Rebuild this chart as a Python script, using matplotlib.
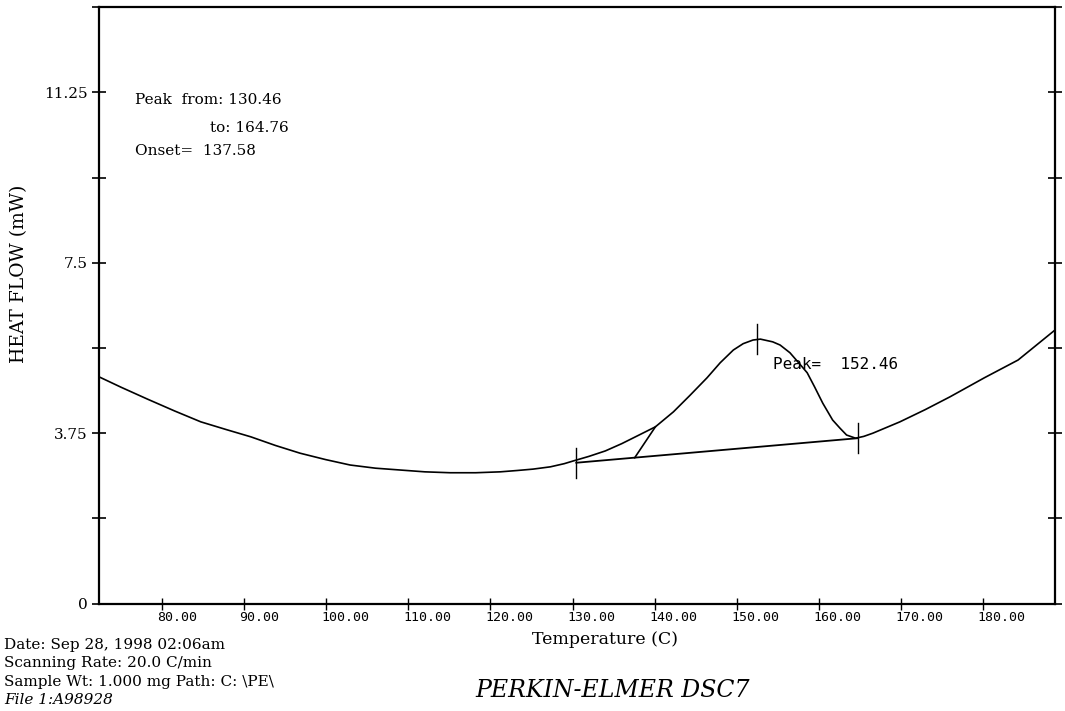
import numpy as np
import matplotlib.pyplot as plt
import matplotlib.transforms as mtransforms

# DSC trace
temp = [72.3, 75.0, 78.2, 81.5, 84.7, 87.8, 90.8, 93.8, 96.8, 99.9, 102.9,
        106.0, 109.0, 112.0, 115.1, 118.2, 121.2, 123.3, 125.2, 127.3, 129.0,
        130.1, 132.0, 134.0, 136.0, 138.0, 140.1, 142.3, 144.3, 146.4, 148.0,
        149.6, 150.8, 152.0, 152.9, 154.4, 155.3, 156.5, 157.7, 158.6, 159.5,
        160.5, 161.7, 162.6, 163.4, 164.5, 165.5, 166.6, 169.9, 173.0, 176.0,
        180.2, 184.3, 188.8]
heat = [4.99, 4.76, 4.50, 4.24, 4.00, 3.83, 3.67, 3.48, 3.31, 3.17, 3.05,
        2.98, 2.94, 2.90, 2.88, 2.88, 2.90, 2.93, 2.96, 3.01, 3.08,
        3.14, 3.24, 3.36, 3.52, 3.70, 3.89, 4.22, 4.58, 4.97, 5.30,
        5.58, 5.72, 5.80, 5.82, 5.76, 5.69, 5.52, 5.27, 5.08, 4.77,
        4.41, 4.04, 3.86, 3.71, 3.64, 3.68, 3.75, 4.00, 4.27, 4.55,
        4.97, 5.36, 6.02]

# peak analysis
peak_from = 130.46
peak_to = 164.76
peak_at = 152.46
onset = 137.58
base_y = [3.10, 3.64]
onset_y = [3.21, 3.89]
onset_touch = 140.1
peak_y = 5.82

xticks = [80, 90, 100, 110, 120, 130, 140, 150, 160, 170, 180]
yticks = [0, 1.875, 3.75, 5.625, 7.5, 9.375, 11.25, 13.125]
ylabels = ['0', '', '3.75', '', '7.5', '', '11.25', '']

serif = 'DejaVu Serif'
mono = 'DejaVu Sans Mono'

fig = plt.figure(figsize=(10.65, 7.11), dpi=100)
ax = fig.add_axes([0.093, 0.151, 0.8976, 0.839])

ax.plot(temp, heat, color='black', lw=1.2, solid_joinstyle='round')
ax.plot([peak_from, peak_to], base_y, color='black', lw=1.3)
ax.plot([onset, onset_touch], onset_y, color='black', lw=1.2)

# event marks
half = 0.33
for xm, ym in [(peak_from, base_y[0]), (peak_at, peak_y), (peak_to, base_y[1])]:
    ax.plot([xm, xm], [ym - half, ym + half], color='black', lw=1.0)

ax.set_xlim(72.3, 188.8)
ax.set_ylim(0, 13.125)

for s in ax.spines.values():
    s.set_linewidth(1.6)

ax.set_yticks(yticks)
ax.set_yticklabels(ylabels, fontfamily=serif, fontsize=11)
ax.tick_params(axis='y', direction='inout', length=10, width=1.2,
               right=True, pad=3)

ax.set_xticks(xticks)
ax.set_xticklabels(['%.2f' % t for t in xticks], fontfamily=mono,
                   fontsize=9.5, ha='left')
ax.tick_params(axis='x', direction='inout', length=9, width=1.0, pad=1)
offset = mtransforms.ScaledTranslation(-5 / 100, 0, fig.dpi_scale_trans)
for lab in ax.get_xticklabels():
    lab.set_transform(lab.get_transform() + offset)

ax.text(154.4, 5.26, 'Peak=  152.46', fontfamily=mono, fontsize=11.5,
        va='center', ha='left')

ax.text(0.0377, 0.845, 'Peak  from: 130.46', transform=ax.transAxes,
        fontfamily=serif, fontsize=11, va='center', ha='left')
ax.text(0.198, 0.798, 'to: 164.76', transform=ax.transAxes,
        fontfamily=serif, fontsize=11, va='center', ha='right')
ax.text(0.0377, 0.758, 'Onset=  137.58', transform=ax.transAxes,
        fontfamily=serif, fontsize=11, va='center', ha='left')

fig.text(0.0178, 0.615, 'HEAT FLOW (mW)', rotation=90, fontfamily=serif,
         fontsize=13.5, ha='center', va='center')
fig.text(0.568, 0.0999, 'Temperature (C)', fontfamily=serif, fontsize=12.5,
         ha='center', va='center')
fig.text(0.575, 0.0295, 'PERKIN-ELMER DSC7', fontfamily=serif, style='italic',
         fontsize=17, ha='center', va='center')

info = ['Date: Sep 28, 1998 02:06am',
        'Scanning Rate: 20.0 C/min',
        'Sample Wt: 1.000 mg Path: C: \\PE\\']
for i, line in enumerate(info):
    fig.text(0.004, 0.093 - i * 0.0258, line, fontfamily=serif, fontsize=11,
             ha='left', va='center')
fig.text(0.004, 0.0155, 'File 1:A98928', fontfamily=serif, style='italic',
         fontsize=11, ha='left', va='center')

fig.savefig('out.png', dpi=100)
